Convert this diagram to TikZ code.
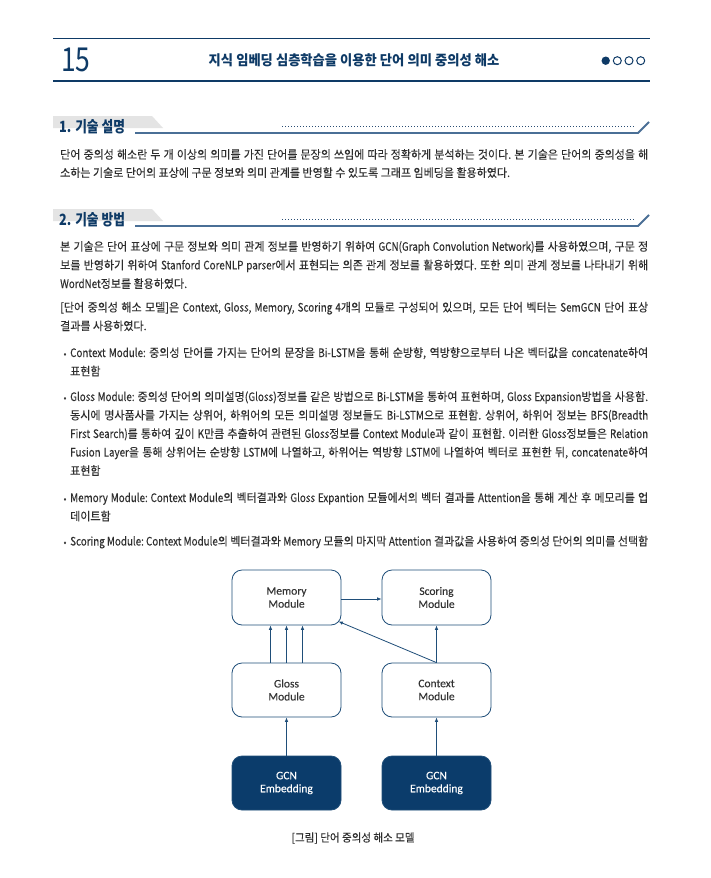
\documentclass[tikz,border=0pt]{standalone}
\usepackage{graphicx}
\usepackage{fontspec}
\setmainfont{Carlito}
\newfontfamily\boxfont[FakeBold=0.15]{Carlito}
\newfontfamily\kr[FakeStretch=0.94,FakeBold=0.08]{Noto Sans CJK KR}
\newfontfamily\krl[FakeStretch=0.84,FakeBold=0.08]{Noto Sans CJK KR}
\newfontfamily\krh[FakeStretch=0.82]{Noto Sans CJK KR}
\newfontfamily\krt[FakeStretch=0.95]{Noto Sans CJK KR}
\newfontfamily\krn[FakeStretch=0.8]{Noto Sans CJK KR}
\usetikzlibrary{arrows.meta}
\definecolor{navy}{HTML}{0E3A66}
\definecolor{bodygray}{HTML}{2E2E2E}
\definecolor{boxblue}{HTML}{1F4E79}
\definecolor{gcnblue}{HTML}{0B3C6B}
\definecolor{modtext}{HTML}{333333}
\definecolor{headgray}{HTML}{E4E4E4}
\definecolor{ruleblue}{HTML}{4A6F96}
\definecolor{dotblue}{HTML}{2A4D73}
\newlength\jw
\newcommand{\fitline}[2]{%
  \settowidth{\jw}{#2}%
  \ifdim\jw>#1\relax
    \resizebox{#1}{\height}{#2}%
  \else
    \makebox[#1][s]{#2}%
  \fi}
\newcommand{\jl}[1]{\fitline{588pt}{#1}}
\newcommand{\jb}[1]{\fitline{578pt}{#1}}
\newcommand{\e}[1]{{\krl #1}}
\tikzset{
  body/.style={anchor=base west, inner sep=0, text=bodygray, font=\kr\fontsize{11.7}{14}\selectfont\frenchspacing},
  bul/.style={anchor=base, inner sep=0, text=bodygray, font=\kr\fontsize{9}{14}\selectfont},
  modbox/.style={draw=boxblue, line width=0.8pt, rounded corners=10pt, minimum width=109pt, minimum height=55pt, inner sep=0, align=center, font=\boxfont\fontsize{11.5}{13}\selectfont, text=modtext, fill=white},
  gcnbox/.style={modbox, fill=gcnblue, text=white},
  arr/.style={draw=boxblue, line width=0.8pt, -{Latex[length=4.5pt,width=3.6pt]}},
  sechead/.style={anchor=base west, inner sep=0, text=navy, font=\krh\bfseries\fontsize{15.5}{18}\selectfont},
  hrule/.style={draw=navy, line width=1.3pt},
  secrule/.style={draw=ruleblue, line width=1.8pt},
  secdots/.style={draw=dotblue, line width=1pt, dash pattern=on 1pt off 2pt},
}
\begin{document}
\begin{tikzpicture}[x=1pt,y=-1pt]
\fill[white] (0,0) rectangle (710,878);
\useasboundingbox (0,0) rectangle (710,878);

% header
\draw[hrule] (53,38.5) -- (650,38.5);
\draw[hrule] (53,81) -- (650,81);
\node[anchor=west, inner sep=0, text=navy, font=\krn\fontsize{33}{36}\selectfont] (num) at (61,60) {15};
\node[inner sep=0, text=navy, font=\krt\bfseries\fontsize{14}{16}\selectfont] (title) at (354,60) {지식 임베딩 심층학습을 이용한 단어 의미 중의성 해소};
\fill[navy] (605.7,60.7) circle (4.2);
\draw[navy, line width=1pt] (617.3,60.7) circle (4);
\draw[navy, line width=1pt] (629,60.7) circle (4);
\draw[navy, line width=1pt] (640.7,60.7) circle (4);

% section 1
\fill[headgray] (53,116) -- (152,116) -- (163,128) -- (53,128) -- cycle;
\draw[secdots] (282,126) -- (634,126);
\draw[secrule] (135,133) -- (638,133) -- (649,122);
\node[sechead] (s1) at (59,132.7) {1. 기술 설명};
\node[body] (p1a) at (60,158.8) {\jl{단어 중의성 해소란 두 개 이상의 의미를 가진 단어를 문장의 쓰임에 따라 정확하게 분석하는 것이다. 본 기술은 단어의 중의성을 해}};
\node[body] (p1b) at (60,177.0) {소하는 기술로 단어의 표상에 구문 정보와 의미 관계를 반영할 수 있도록 그래프 임베딩을 활용하였다.};

% section 2
\fill[headgray] (53,209) -- (152,209) -- (163,221) -- (53,221) -- cycle;
\draw[secdots] (282,219) -- (634,219);
\draw[secrule] (135,226) -- (638,226) -- (649,215);
\node[sechead] (s2) at (59,225.7) {2. 기술 방법};
\node[body] (p2a) at (60,250.8) {\jl{본 기술은 단어 표상에 구문 정보와 의미 관계 정보를 반영하기 위하여 \e{GCN(Graph Convolution Network)}를 사용하였으며, 구문 정}};
\node[body] (p2b) at (60,269.4) {\jl{보를 반영하기 위하여 \e{Stanford CoreNLP parser}에서 표현되는 의존 관계 정보를 활용하였다. 또한 의미 관계 정보를 나타내기 위해}};
\node[body] (p2c) at (60,288.0) {\e{WordNet}정보를 활용하였다.};

\node[body] (p3a) at (60,311.6) {\jl{[단어 중의성 해소 모델]은 \e{Context, Gloss, Memory, Scoring 4}개의 모듈로 구성되어 있으며, 모든 단어 벡터는 \e{SemGCN} 단어 표상}};
\node[body] (p3b) at (60,330.2) {결과를 사용하였다.};

% bullets
\node[bul] (b1) at (65,357.0) {•};
\node[body] (c1) at (70,357.0) {\jb{\e{Context Module:} 중의성 단어를 가지는 단어의 문장을 \e{Bi-LSTM}을 통해 순방향, 역방향으로부터 나온 벡터값을 \e{concatenate}하여}};
\node[body] (c2) at (70,375.5) {표현함};

\node[bul] (b2) at (65,401.0) {•};
\node[body] (g1) at (70,401.0) {\jb{\e{Gloss Module:} 중의성 단어의 의미설명(\e{Gloss})정보를 같은 방법으로 \e{Bi-LSTM}을 통하여 표현하며, \e{Gloss Expansion}방법을 사용함.}};
\node[body] (g2) at (70,419.5) {\jb{동시에 명사품사를 가지는 상위어, 하위어의 모든 의미설명 정보들도 \e{Bi-LSTM}으로 표현함. 상위어, 하위어 정보는 \e{BFS(Breadth}}};
\node[body] (g3) at (70,438.0) {\jb{\e{First Search)}를 통하여 깊이 \e{K}만큼 추출하여 관련된 \e{Gloss}정보를 \e{Context Module}과 같이 표현함. 이러한 \e{Gloss}정보들은 \e{Relation}}};
\node[body] (g4) at (70,456.5) {\jb{\e{Fusion Layer}을 통해 상위어는 순방향 \e{LSTM}에 나열하고, 하위어는 역방향 \e{LSTM}에 나열하여 벡터로 표현한 뒤, \e{concatenate}하여}};
\node[body] (g5) at (70,475.0) {표현함};

\node[bul] (b3) at (65,502.0) {•};
\node[body] (m1) at (70,502.0) {\jb{\e{Memory Module: Context Module}의 벡터결과와 \e{Gloss Expantion} 모듈에서의 벡터 결과를 \e{Attention}을 통해 계산 후 메모리를 업}};
\node[body] (m2) at (70,520.5) {데이트함};

\node[bul] (b4) at (65,545.5) {•};
\node[body] (sc1) at (70,545.5) {\jb{\e{Scoring Module: Context Module}의 벡터결과와 \e{Memory} 모듈의 마지막 \e{Attention} 결과값을 사용하여 중의성 단어의 의미를 선택함}};

% figure
\node[modbox] (mem) at (286.5,597.5) {Memory\\Module};
\node[modbox] (sco) at (436.5,597.5) {Scoring\\Module};
\node[modbox, minimum height=54pt] (glo) at (286.5,690) {Gloss\\Module};
\node[modbox, minimum height=54pt] (ctx) at (436.5,690) {Context\\Module};
\node[gcnbox, minimum height=54pt] (gcn1) at (286.5,783) {GCN\\Embedding};
\node[gcnbox, minimum height=54pt] (gcn2) at (436.5,783) {GCN\\Embedding};

\draw[arr] ([yshift=-1.5pt]mem.east) -- ([yshift=-1.5pt]sco.west);
\draw[arr] ([xshift=-16pt]glo.north) -- ([xshift=-16pt]mem.south);
\draw[arr] (glo.north) -- (mem.south);
\draw[arr] ([xshift=16pt]glo.north) -- ([xshift=16pt]mem.south);
\draw[arr] (ctx.north) -- (sco.south);
\draw[arr] (ctx.north) -- ([xshift=-3pt,yshift=4pt]mem.south east);
\draw[arr] (gcn1.north) -- (glo.south);
\draw[arr] (gcn2.north) -- (ctx.south);

\node[inner sep=0, text=bodygray, font=\kr\fontsize{11.2}{13}\selectfont] (cap) at (353,838) {[그림] 단어 중의성 해소 모델};
\end{tikzpicture}
\end{document}
